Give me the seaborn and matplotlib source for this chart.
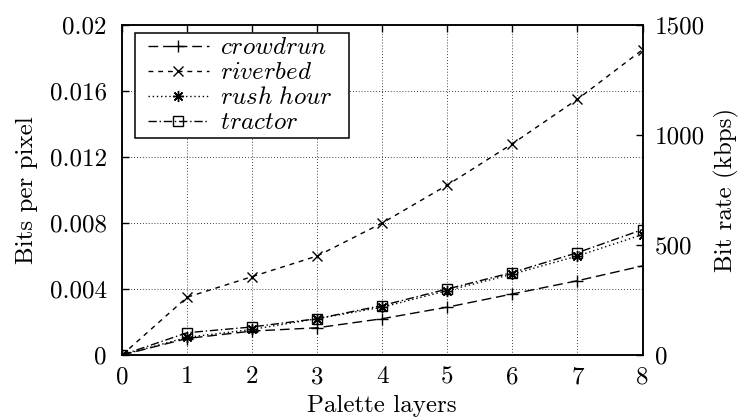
import matplotlib
matplotlib.use("Agg")
import matplotlib.pyplot as plt
from matplotlib.lines import Line2D
from matplotlib.legend_handler import HandlerLine2D
import seaborn as sns
import pandas as pd

layers = [0, 1, 2, 3, 4, 5, 6, 7, 8]
crowdrun = [0, 0.0010, 0.00145, 0.00165, 0.0022, 0.0029, 0.0037, 0.0045, 0.0054]
riverbed = [0, 0.0035, 0.00475, 0.0060, 0.0080, 0.0103, 0.0128, 0.0155, 0.0185]
rush_hour = [0, 0.00107, 0.00155, 0.0022, 0.0029, 0.0039, 0.0049, 0.0060, 0.0073]
tractor = [0, 0.00135, 0.0017, 0.0022, 0.0030, 0.0040, 0.0050, 0.0062, 0.0076]
series_names = ["crowdrun", "riverbed", "rush hour", "tractor"]

y_ticks = [0, 0.004, 0.008, 0.012, 0.016, 0.02]
y_tick_labels = ["0", "0.004", "0.008", "0.012", "0.016", "0.02"]
y2_ticks = [0, 500, 1000, 1500]
y2_tick_labels = ["0", "500", "1000", "1500"]

FS = 18

sns.set_theme(style="white")
plt.rcParams.update({
    "font.family": ["cmr10", "DejaVu Serif"],
    "mathtext.fontset": "cm",
    "axes.formatter.use_mathtext": True,
    "font.size": FS,
    "axes.edgecolor": "black",
    "axes.linewidth": 1.1,
    "xtick.color": "black",
    "ytick.color": "black",
    "text.color": "black",
    "axes.labelcolor": "black",
})

df = pd.DataFrame({
    "layers": layers * 4,
    "bpp": crowdrun + riverbed + rush_hour + tractor,
    "video": sum([[n] * len(layers) for n in series_names], []),
})

styles = {
    "crowdrun": dict(linestyle=(0, (7, 3.5)), marker="+", markersize=8),
    "riverbed": dict(linestyle=(0, (3.5, 3.5)), marker="x", markersize=7),
    "rush hour": dict(linestyle=(0, (1, 2)), marker=(8, 2, 0), markersize=8),
    "tractor": dict(linestyle=(0, (6, 2, 1, 2)), marker="s", markersize=7),
}

fig = plt.figure(figsize=(7.4, 4.17), dpi=100)
ax = fig.add_axes([122 / 740, 1 - 355 / 417, (642.5 - 122) / 740, (355 - 25) / 417])

for name in series_names:
    sub = df[df["video"] == name]
    st = styles[name]
    sns.lineplot(data=sub, x="layers", y="bpp", ax=ax, color="black", lw=1,
                 linestyle=st["linestyle"], marker=st["marker"], markersize=st["markersize"],
                 markerfacecolor="none", markeredgecolor="black", markeredgewidth=1,
                 label=r"$\mathit{" + name.replace(" ", r"\ ") + r"}$")

ax.set_xlim(0, 8)
ax.set_ylim(0, 0.02)
ax.set_xticks(layers)
ax.set_xticklabels([str(v) for v in layers])
ax.set_yticks(y_ticks)
ax.set_yticklabels(y_tick_labels)
ax.grid(True, color="black", linestyle=(0, (1, 2.5)), linewidth=0.6)
ax.tick_params(direction="in", length=5, width=1, top=True, right=False, labelsize=FS)
ax.tick_params(axis="x", pad=8)
ax.tick_params(axis="y", pad=11)
ax.set_xlabel("Palette layers", fontsize=FS, labelpad=5)
ax.set_ylabel("Bits per pixel", fontsize=FS, labelpad=8)

ax2 = ax.twinx()
ax2.set_ylim(0, 1500)
ax2.set_yticks(y2_ticks)
ax2.set_yticklabels(y2_tick_labels)
ax2.tick_params(direction="in", length=5, width=1, labelsize=FS, pad=9)
ax2.set_ylabel("Bit rate (kbps)", fontsize=FS, labelpad=6)
ax2.grid(False)
for s in ax2.spines.values():
    s.set_linewidth(1.1)
    s.set_color("black")

top = 1 - 8 / 330
leg = ax.legend(loc="upper left", bbox_to_anchor=(13 / 520.5, 0.5, 214 / 520.5, top - 0.5),
                mode="expand", borderaxespad=0,
                frameon=True, fancybox=False, edgecolor="black", framealpha=1,
                handlelength=2.8, handletextpad=0.45, labelspacing=0.1, borderpad=0.15,
                numpoints=1, fontsize=FS,
                handler_map={Line2D: HandlerLine2D(xpad=0.35)})
leg.get_frame().set_linewidth(1.1)

fig.savefig("out.png", dpi=100)
